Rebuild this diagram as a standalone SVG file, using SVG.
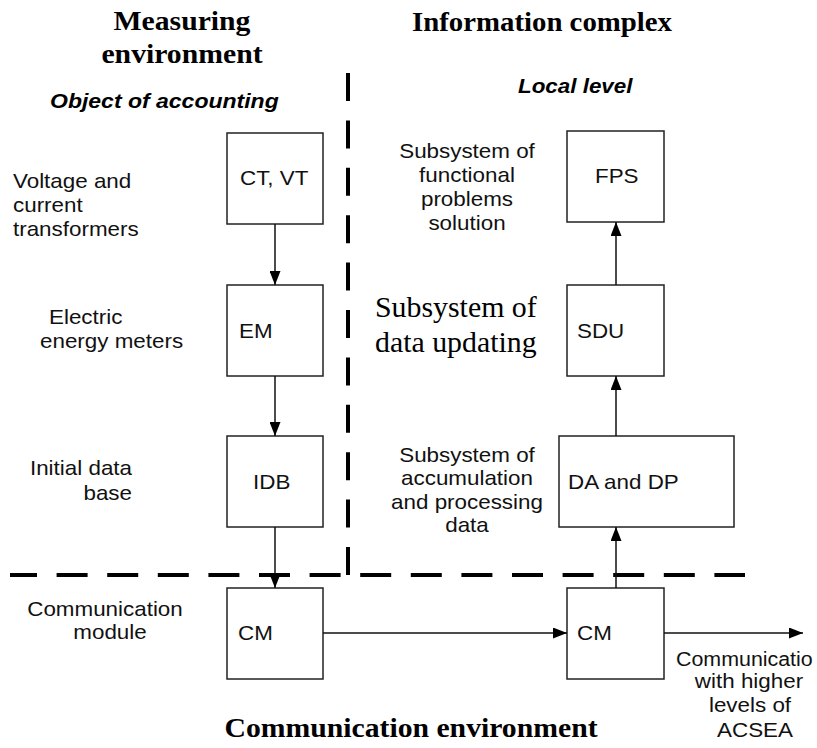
<svg xmlns="http://www.w3.org/2000/svg" width="817" height="748" viewBox="0 0 817 748">
<style>
.s{font-family:"Liberation Sans",Arial,sans-serif;font-size:20px;fill:#111}
.bi{font-family:"Liberation Sans",Arial,sans-serif;font-size:20px;font-weight:bold;font-style:italic;fill:#000}
.h{font-family:"Liberation Serif","Times New Roman",serif;font-size:27px;font-weight:bold;fill:#000;text-anchor:middle}
.r{font-family:"Liberation Serif","Times New Roman",serif;font-size:29px;fill:#000}
.m{text-anchor:middle}
.e{text-anchor:end}
.box{fill:#fff;stroke:#222;stroke-width:1.5}
.ln{stroke:#111;stroke-width:1.5;fill:none;marker-end:url(#ah)}
.dash{stroke:#000;stroke-width:4;fill:none}
</style>
<defs>
<marker id="ah" markerUnits="userSpaceOnUse" markerWidth="14" markerHeight="11" refX="14" refY="5.5" orient="auto">
<path d="M0,0 L14,5.5 L0,11 z" fill="#000"/>
</marker>
</defs>
<rect width="817" height="748" fill="#fff"/>

<g id="headings">
<text class="h" transform="translate(182,30) scale(1.1,1)">Measuring</text>
<text class="h" transform="translate(182,63) scale(1.1,1)">environment</text>
<text class="h" transform="translate(542,31) scale(1.067,1)">Information complex</text>
<text class="h" transform="translate(411,737) scale(1.1,1)">Communication environment</text>
<text class="bi" transform="translate(50,108) scale(1.15,1)">Object of accounting</text>
<text class="bi" transform="translate(518,93) scale(1.12,1)">Local level</text>
</g>

<g id="dividers">
<line class="dash" x1="348" y1="73" x2="348" y2="575" stroke-dasharray="28,19.4"/>
<line class="dash" x1="10" y1="575" x2="745" y2="575" stroke-dasharray="31,19.6" stroke-dashoffset="4"/>
</g>

<g id="labels">
<text class="s" transform="translate(13,188) scale(1.12,1)"><tspan x="0" y="0">Voltage and</tspan><tspan x="0" y="24">current</tspan><tspan x="0" y="48">transformers</tspan></text>
<text class="s" transform="translate(49,324) scale(1.12,1)">Electric</text>
<text class="s" transform="translate(40,348) scale(1.12,1)">energy meters</text>
<text class="s e" transform="translate(132,475) scale(1.12,1)">Initial data</text>
<text class="s e" transform="translate(132,500) scale(1.12,1)">base</text>
<text class="s m" transform="translate(105,616) scale(1.12,1)">Communication</text>
<text class="s m" transform="translate(110,639) scale(1.12,1)">module</text>
<text class="s m" transform="translate(467,158) scale(1.12,1)"><tspan x="0" y="0">Subsystem of</tspan><tspan x="0" y="24">functional</tspan><tspan x="0" y="48">problems</tspan><tspan x="0" y="72">solution</tspan></text>
<text class="r" transform="translate(375,317) scale(1.03,1)"><tspan x="0" y="0">Subsystem of</tspan><tspan x="0" y="35">data updating</tspan></text>
<text class="s m" transform="translate(467,462) scale(1.12,1)"><tspan x="0" y="0">Subsystem of</tspan><tspan x="0" y="23.5">accumulation</tspan><tspan x="0" y="47">and processing</tspan><tspan x="0" y="70.5">data</tspan></text>
<text class="s" transform="translate(676,666) scale(1.07,1)">Communicatio</text>
<text class="s m" transform="translate(749,688) scale(1.12,1)">with higher</text>
<text class="s m" transform="translate(750,712) scale(1.12,1)">levels of</text>
<text class="s m" transform="translate(755,737) scale(1.12,1)">ACSEA</text>
</g>

<g id="node-ctvt"><rect class="box" x="227" y="133" width="96" height="91"/><text class="s" transform="translate(240,185) scale(1.12,1)">CT, VT</text></g>
<g id="node-em"><rect class="box" x="227" y="285" width="96" height="91"/><text class="s" transform="translate(239,338) scale(1.12,1)">EM</text></g>
<g id="node-idb"><rect class="box" x="227" y="436" width="96" height="91"/><text class="s" transform="translate(253,489) scale(1.12,1)">IDB</text></g>
<g id="node-cm1"><rect class="box" x="227" y="588" width="96" height="91"/><text class="s" transform="translate(238,640) scale(1.12,1)">CM</text></g>
<g id="node-fps"><rect class="box" x="567" y="131" width="97" height="91"/><text class="s" transform="translate(595,183) scale(1.12,1)">FPS</text></g>
<g id="node-sdu"><rect class="box" x="567" y="285" width="97" height="91"/><text class="s" transform="translate(577,338) scale(1.12,1)">SDU</text></g>
<g id="node-da"><rect class="box" x="559" y="436" width="175" height="91"/><text class="s" transform="translate(568,489) scale(1.12,1)">DA and DP</text></g>
<g id="node-cm2"><rect class="box" x="567" y="588" width="97" height="91"/><text class="s" transform="translate(577,640) scale(1.12,1)">CM</text></g>

<g id="connectors">
<line class="ln" x1="275" y1="224" x2="275" y2="285"/>
<line class="ln" x1="275" y1="376" x2="275" y2="436"/>
<line class="ln" x1="275" y1="527" x2="275" y2="588"/>
<line class="ln" x1="323" y1="633" x2="567" y2="633"/>
<line class="ln" x1="664" y1="633" x2="803" y2="633"/>
<line class="ln" x1="616" y1="588" x2="616" y2="527"/>
<line class="ln" x1="616" y1="436" x2="616" y2="376"/>
<line class="ln" x1="616" y1="285" x2="616" y2="222"/>
</g>
</svg>
